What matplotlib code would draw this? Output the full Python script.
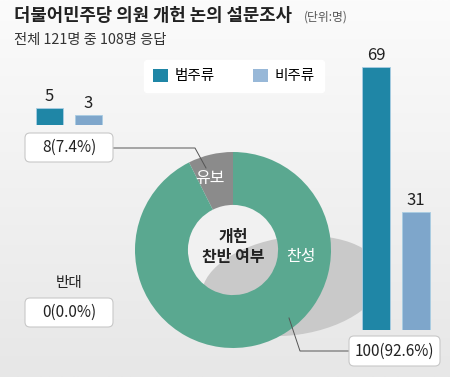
import numpy as np
import matplotlib
matplotlib.use("Agg")
import matplotlib.pyplot as plt
from matplotlib.patches import FancyBboxPatch, Ellipse, Circle, Patch

plt.rcParams['font.family'] = ['Noto Sans CJK KR', 'DejaVu Sans']

# Données
groupes = ["범주류", "비주류"]
chansung = [69, 31]      # 찬성 : 100
yubo = [5, 3]            # 유보 : 8
reponses = ["유보", "반대", "찬성"]
totaux = [8, 0, 100]
libelles = ["8(7.4%)", "0(0.0%)", "100(92.6%)"]

c_bleu = "#1f86a6"
c_clair = "#7ea6cb"
c_vert = "#5aa890"
c_gris = "#8b8b8b"

W, H = 450, 377
fig = plt.figure(figsize=(W / 100, H / 100), dpi=100)

# fond (pixels)
fond = fig.add_axes([0, 0, 1, 1])
grad = np.linspace(0, 1, 200).reshape(-1, 1)
fond.imshow(grad, extent=[0, W, H, 0], cmap=matplotlib.colors.LinearSegmentedColormap.from_list("g", ["#fbfbfb", "#e7e7e7"]),
            aspect="auto", zorder=0)
fond.set_xlim(0, W)
fond.set_ylim(H, 0)
fond.axis("off")

# titres
fond.text(14, 16, "더불어민주당 의원 개헌 논의 설문조사", fontsize=12.8, fontweight="bold", color="#222222", va="center")
fond.text(304, 17, "(단위:명)", fontsize=8.5, color="#555555", va="center")
fond.text(14, 40, "전체 121명 중 108명 응답", fontsize=10.3, color="#333333", va="center")

# ombre + trou du donut
fond.add_patch(Circle((233, 250), 45, fc="#f1f1f1", ec="none", zorder=1))
fond.add_patch(Ellipse((292, 286), 182, 98, angle=-8, fc="#c9c9c9", ec="none", zorder=2))

# donut
ax_pie = fig.add_axes([(233 - 98) / W, 1 - (250 + 98) / H, 196 / W, 196 / H])
ax_pie.pie(totaux, colors=[c_gris, c_gris, c_vert], startangle=90, counterclock=True,
           wedgeprops=dict(width=0.54, edgecolor="none"), radius=1)
ax_pie.set_xlim(-1, 1)
ax_pie.set_ylim(-1, 1)
ax_pie.axis("off")
ax_pie.patch.set_alpha(0)

# barres 찬성
ax_g = fig.add_axes([356 / W, (H - 330) / H, 80 / W, 305 / H])
b = ax_g.bar([0, 1], chansung, width=0.7, color=[c_bleu, c_clair], edgecolor="#a9cde3", lw=0.6)
ax_g.bar_label(b, labels=[str(v) for v in chansung], padding=2, fontsize=12, color="#222222")
ax_g.set_xlim(-0.5, 1.5)
ax_g.set_ylim(0, 80)
ax_g.axis("off")

# barres 유보
ax_p = fig.add_axes([30 / W, (H - 125) / H, 78 / W, 34 / H])
b2 = ax_p.bar([0, 1], yubo, width=0.7, color=[c_bleu, c_clair], edgecolor="#a9cde3", lw=0.6)
ax_p.bar_label(b2, labels=[str(v) for v in yubo], padding=2, fontsize=12, color="#222222")
ax_p.set_xlim(-0.5, 1.5)
ax_p.set_ylim(0, 10)
ax_p.axis("off")

# calque du dessus (pixels) : textes, boîtes, traits
haut = fig.add_axes([0, 0, 1, 1])
haut.set_xlim(0, W)
haut.set_ylim(H, 0)
haut.axis("off")
haut.patch.set_alpha(0)

haut.text(210, 178, "유보", fontsize=11.5, color="white", ha="center", va="center")
haut.text(301, 257, "찬성", fontsize=11.5, color="white", ha="center", va="center")
haut.text(233, 247, "개헌\n찬반 여부", fontsize=11.5, fontweight="bold", color="#222222",
          ha="center", va="center", linespacing=1.3)

def boite(x0, y0, w, h, txt):
    haut.add_patch(FancyBboxPatch((x0, y0), w, h, boxstyle="round,pad=0,rounding_size=5",
                                  fc="white", ec="#c8c8c8", lw=0.8, zorder=6))
    haut.text(x0 + w / 2, y0 + h / 2, txt, fontsize=11, color="#222222",
              ha="center", va="center", zorder=7)

boite(25, 133, 88, 29, libelles[0])
boite(25, 298, 88, 29, libelles[1])
boite(349, 336, 91, 30, libelles[2])
haut.text(69, 283, reponses[1], fontsize=10.5, color="#222222", ha="center", va="center")

haut.plot([113, 195, 206], [148, 148, 168], color="#555555", lw=0.7, zorder=5)
haut.plot([289, 300, 349], [318, 351, 351], color="#555555", lw=0.7, zorder=5)

# légende
poignees = [Patch(fc=c_bleu, ec="none"), Patch(fc="#98b8d8", ec="none")]
leg = fig.legend(poignees, groupes, loc="center", bbox_to_anchor=(234 / W, 1 - 76 / H), ncol=2,
                 fontsize=10.5, frameon=True, fancybox=True, facecolor="white", edgecolor="white",
                 framealpha=1, handlelength=1.0, handleheight=1.0, handletextpad=0.5,
                 columnspacing=2.6, borderpad=0.6)

fig.savefig("out.png", dpi=100)
